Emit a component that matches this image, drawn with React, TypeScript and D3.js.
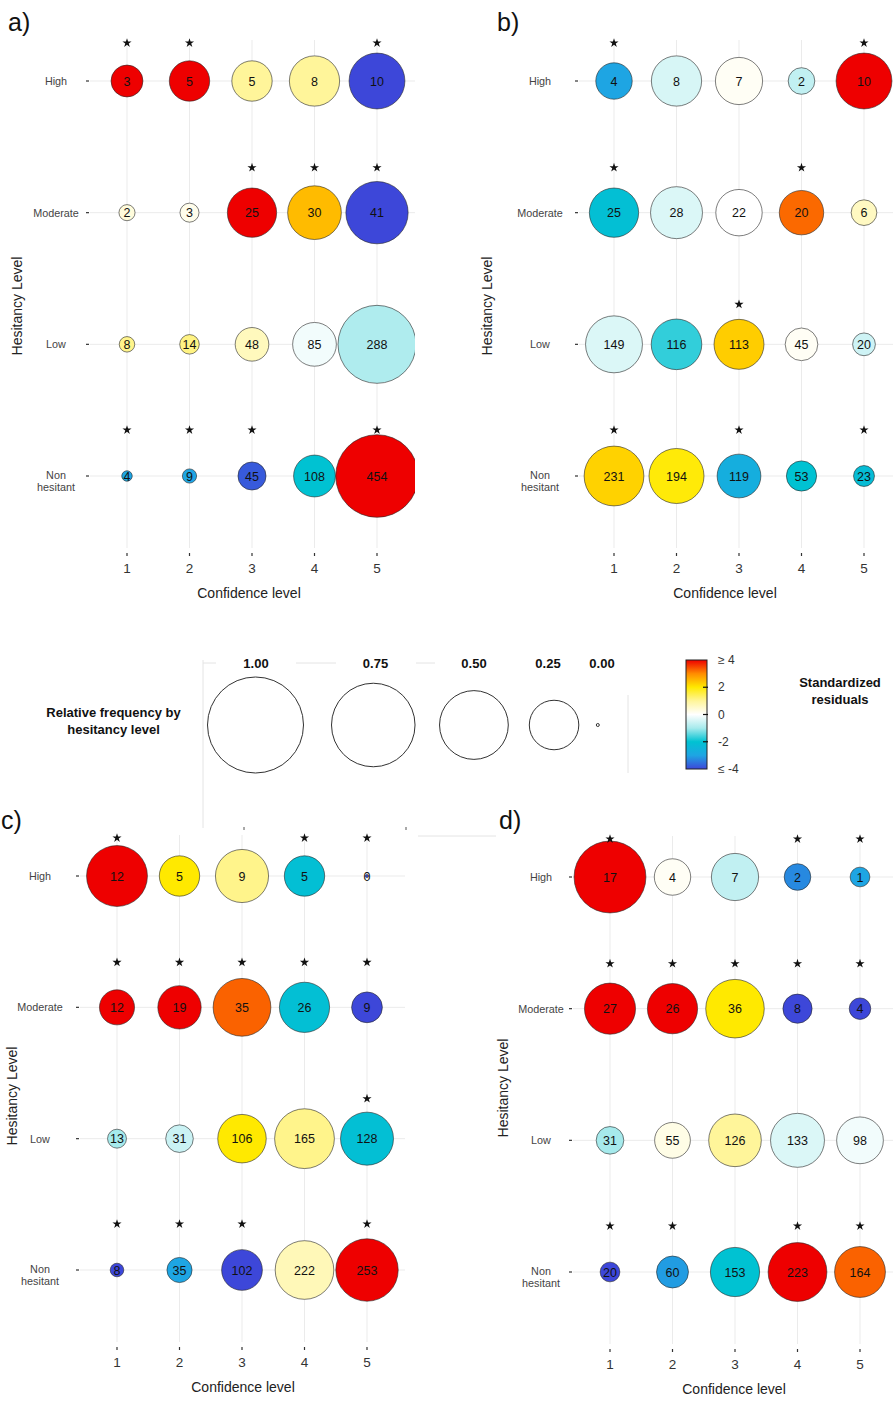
import React from "react";
import * as d3 from "d3";

// Categories
const CONFIDENCE_LEVELS = ["1", "2", "3", "4", "5"];
const HESITANCY_LEVELS = ["High", "Moderate", "Low", "Non hesitant"];

// Panel a) counts, standardized residuals and significance (rows follow HESITANCY_LEVELS)
const countsA = [
  [3, 5, 5, 8, 10],
  [2, 3, 25, 30, 41],
  [8, 14, 48, 85, 288],
  [4, 9, 45, 108, 454],
];
const residualsA = [
  [4, 4, 1, 1, -4],
  [0.35, 0.2, 4, 2.5, -4],
  [1.1, 1.15, 0.65, -0.15, -0.9],
  [-3, -3, -3.8, -2, 4],
];
const significantA = [
  [1, 1, 0, 0, 1],
  [0, 0, 1, 1, 1],
  [0, 0, 0, 0, 0],
  [1, 1, 1, 0, 1],
];

// Panel b)
const countsB = [
  [4, 8, 7, 2, 10],
  [25, 28, 22, 20, 6],
  [149, 116, 113, 45, 20],
  [231, 194, 119, 53, 23],
];
const residualsB = [
  [-3, -0.45, 0.1, -0.7, 4],
  [-2.1, -0.4, 0, 3.25, 0.6],
  [-0.4, -1.7, 2.3, 0.1, -0.55],
  [2.25, 1.95, -2.7, -2, -2.2],
];
const significantB = [
  [1, 0, 0, 0, 1],
  [1, 0, 0, 1, 0],
  [0, 0, 1, 0, 0],
  [1, 0, 1, 0, 1],
];

// Panel c)
const countsC = [
  [12, 5, 9, 5, 0],
  [12, 19, 35, 26, 9],
  [13, 31, 106, 165, 128],
  [8, 35, 102, 222, 253],
];
const residualsC = [
  [4, 2, 1.1, -2.1, -4],
  [4, 4, 3.3, -2.1, -4],
  [-1, -0.6, 2, 1.1, -2.1],
  [-4, -3, -4, 0.7, 4],
];
const significantC = [
  [1, 0, 0, 1, 1],
  [1, 1, 1, 1, 1],
  [0, 0, 0, 0, 1],
  [1, 1, 1, 0, 1],
];

// Panel d)
const countsD = [
  [17, 4, 7, 2, 1],
  [27, 26, 36, 8, 4],
  [31, 55, 126, 133, 98],
  [20, 60, 153, 223, 164],
];
const residualsD = [
  [4, 0.1, -0.7, -3.3, -3],
  [4, 4, 2, -4, -4],
  [-1, 0.25, 1, -0.4, -0.15],
  [-4, -3.1, -2, 4, 3.3],
];
const significantD = [
  [1, 0, 0, 1, 1],
  [1, 1, 1, 1, 1],
  [0, 0, 0, 0, 0],
  [1, 1, 0, 1, 1],
];

// Legends
const SIZE_LEGEND_VALUES = [1, 0.75, 0.5, 0.25, 0];
const SIZE_LEGEND_LABELS = ["1.00", "0.75", "0.50", "0.25", "0.00"];
const RESIDUAL_TICKS = [4, 2, 0, -2, -4];
const RESIDUAL_TICK_LABELS = ["≥ 4", "2", "0", "-2", "≤ -4"];
const RESIDUAL_STOPS = [-4, -3, -2, -1, 0, 1, 2, 3, 4];
const RESIDUAL_COLORS = [
  "#3d47d9", "#1ea5e3", "#00c2d2", "#a6eaec", "#ffffff",
  "#fff59a", "#ffe900", "#ff8c00", "#ee0000",
];

const FONT = "'Liberation Sans', Arial, Helvetica, sans-serif";

const color = d3
  .scaleLinear<string>()
  .domain(RESIDUAL_STOPS)
  .range(RESIDUAL_COLORS)
  .interpolate(d3.interpolateRgb)
  .clamp(true);

// bubble radius from the relative frequency within a hesitancy level
const radius = d3.scaleSqrt().domain([0, 1]).range([1.5, 48]);

// vertical offset of the significance star above each row
const STAR_OFFSET = [-38, -45, -40, -46];

type Layout = {
  id: string;
  letter: string;
  letterX: number;
  letterY: number;
  xRange: [number, number];
  yRange: [number, number];
  gridLeft: number;
  gridRight: number;
  labelX: number;
  titleX: number;
  yTitleX: number;
  yTitleY: number;
};

const PANELS: { layout: Layout; counts: number[][]; residuals: number[][]; significant: number[][] }[] = [
  {
    layout: { id: "a", letter: "a)", letterX: 8, letterY: 31, xRange: [127, 377], yRange: [81, 476],
      gridLeft: 90, gridRight: 415, labelX: 56, titleX: 249, yTitleX: 22, yTitleY: 306 },
    counts: countsA, residuals: residualsA, significant: significantA,
  },
  {
    layout: { id: "b", letter: "b)", letterX: 497, letterY: 31, xRange: [614, 864], yRange: [81, 476],
      gridLeft: 579, gridRight: 893, labelX: 540, titleX: 725, yTitleX: 492, yTitleY: 306 },
    counts: countsB, residuals: residualsB, significant: significantB,
  },
  {
    layout: { id: "c", letter: "c)", letterX: 1, letterY: 829, xRange: [117, 367], yRange: [876, 1270],
      gridLeft: 80, gridRight: 405, labelX: 40, titleX: 243, yTitleX: 17, yTitleY: 1096 },
    counts: countsC, residuals: residualsC, significant: significantC,
  },
  {
    layout: { id: "d", letter: "d)", letterX: 499, letterY: 829, xRange: [610, 860], yRange: [877, 1272],
      gridLeft: 573, gridRight: 893, labelX: 541, titleX: 734, yTitleX: 508, yTitleY: 1088 },
    counts: countsD, residuals: residualsD, significant: significantD,
  },
];

const starPath = d3.symbol().type(d3.symbolStar).size(26)() as string;

function Panel({ layout, counts, residuals, significant }: (typeof PANELS)[number]) {
  const x = d3.scalePoint<string>().domain(CONFIDENCE_LEVELS).range(layout.xRange);
  const y = d3.scalePoint<string>().domain(HESITANCY_LEVELS).range(layout.yRange);
  const gridTop = layout.yRange[0] - 41;
  const gridBottom = layout.yRange[1] + 72;
  const clipId = `clip-${layout.id}`;

  return (
    <g>
      <defs>
        <clipPath id={clipId}>
          <rect x={layout.gridLeft - 40} y={gridTop - 60} width={layout.gridRight - layout.gridLeft + 40} height={gridBottom - gridTop + 120} />
        </clipPath>
      </defs>
      <text x={layout.letterX} y={layout.letterY} fontSize={25} fontFamily={FONT} fill="#111">
        {layout.letter}
      </text>

      {/* grid */}
      {CONFIDENCE_LEVELS.map((c) => (
        <line key={`vg${c}`} x1={x(c)} x2={x(c)} y1={gridTop} y2={gridBottom} stroke="#ebebeb" strokeWidth={1} />
      ))}
      {HESITANCY_LEVELS.map((h) => (
        <line key={`hg${h}`} x1={layout.gridLeft} x2={layout.gridRight} y1={y(h)} y2={y(h)} stroke="#ebebeb" strokeWidth={1} />
      ))}

      {/* y axis */}
      {HESITANCY_LEVELS.map((h) => {
        const yy = y(h) as number;
        const lines = h === "Non hesitant" ? ["Non", "hesitant"] : [h];
        return (
          <g key={`yl${h}`}>
            <line x1={layout.gridLeft - 4} x2={layout.gridLeft - 1} y1={yy} y2={yy} stroke="#333" strokeWidth={1.2} />
            {lines.map((t, i) => (
              <text key={t} x={layout.labelX} y={yy + 4 - (lines.length - 1) + i * 11.5} textAnchor="middle"
                fontSize={10.8} fontFamily={FONT} fill="#444">
                {t}
              </text>
            ))}
          </g>
        );
      })}
      <text transform={`translate(${layout.yTitleX},${layout.yTitleY}) rotate(-90)`} textAnchor="middle"
        fontSize={14} fontFamily={FONT} fill="#222">
        Hesitancy Level
      </text>

      {/* x axis */}
      {CONFIDENCE_LEVELS.map((c) => (
        <g key={`xt${c}`}>
          <line x1={x(c)} x2={x(c)} y1={gridBottom + 5} y2={gridBottom + 8} stroke="#333" strokeWidth={1.2} />
          <text x={x(c)} y={gridBottom + 25} textAnchor="middle" fontSize={13.5} fontFamily={FONT} fill="#333">
            {c}
          </text>
        </g>
      ))}
      <text x={layout.titleX} y={gridBottom + 50} textAnchor="middle" fontSize={14} fontFamily={FONT} fill="#222">
        Confidence level
      </text>

      {/* bubbles */}
      <g clipPath={`url(#${clipId})`}>
        {HESITANCY_LEVELS.map((h, ri) => {
          const total = d3.sum(counts[ri]);
          return CONFIDENCE_LEVELS.map((c, ci) => {
            const n = counts[ri][ci];
            const r = radius(n / total);
            return (
              <g key={`b${h}${c}`}>
                <circle cx={x(c)} cy={y(h)} r={r} fill={color(residuals[ri][ci])} stroke="rgba(40,40,40,0.6)" strokeWidth={1} />
                <text x={x(c)} y={(y(h) as number) + 4.5} textAnchor="middle" fontSize={12.5} fontFamily={FONT} fill="#111">
                  {n}
                </text>
              </g>
            );
          });
        })}
      </g>

      {/* significance stars */}
      {HESITANCY_LEVELS.map((h, ri) =>
        CONFIDENCE_LEVELS.map((c, ci) =>
          significant[ri][ci] ? (
            <path key={`s${h}${c}`} d={starPath} transform={`translate(${x(c)},${(y(h) as number) + STAR_OFFSET[ri]})`} fill="#111" />
          ) : null
        )
      )}
    </g>
  );
}

function SizeLegend() {
  // keys are packed left to right, spacing shrinking with the key size
  const centers: number[] = [];
  SIZE_LEGEND_VALUES.forEach((v, i) => {
    const r = radius(v);
    if (i === 0) centers.push(255.5);
    else {
      const prev = SIZE_LEGEND_VALUES[i - 1];
      centers.push(centers[i - 1] + radius(prev) + r + 14 + 14 * prev);
    }
  });
  const labelX = [256, 375.5, 474, 548, 602];
  const cy = 725;
  return (
    <g>
      {/* faint frame */}
      <g stroke="#e4e4e4" strokeWidth={1}>
        <line x1={203} x2={203} y1={660} y2={828} />
        <line x1={203} x2={216} y1={663} y2={663} />
        <line x1={296} x2={336} y1={663} y2={663} />
        <line x1={416} x2={435} y1={663} y2={663} />
        <line x1={628} x2={628} y1={695} y2={773} />
        <line x1={418} x2={496} y1={836} y2={836} />
      </g>
      <line x1={244} x2={244} y1={827} y2={830} stroke="#555" />
      <line x1={406} x2={406} y1={827} y2={830} stroke="#555" />
      <text x={113.5} y={717} textAnchor="middle" fontSize={13} fontWeight="bold" fontFamily={FONT} fill="#111">
        Relative frequency by
      </text>
      <text x={113.5} y={734} textAnchor="middle" fontSize={13} fontWeight="bold" fontFamily={FONT} fill="#111">
        hesitancy level
      </text>
      {SIZE_LEGEND_VALUES.map((v, i) => (
        <g key={`sl${i}`}>
          <text x={labelX[i]} y={668} textAnchor="middle" fontSize={13} fontWeight="bold" fontFamily={FONT} fill="#111">
            {SIZE_LEGEND_LABELS[i]}
          </text>
          <circle cx={centers[i]} cy={cy} r={radius(v)} fill="#fff" stroke="#333" strokeWidth={1} />
        </g>
      ))}
    </g>
  );
}

function ColorLegend() {
  const yScale = d3.scaleLinear().domain([4, -4]).range([660, 769]);
  const x0 = 686;
  const w = 21;
  return (
    <g>
      <defs>
        <linearGradient id="resid-grad" x1="0" y1="1" x2="0" y2="0">
          {RESIDUAL_STOPS.map((s, i) => (
            <stop key={s} offset={`${((s + 4) / 8) * 100}%`} stopColor={RESIDUAL_COLORS[i]} />
          ))}
        </linearGradient>
      </defs>
      <rect x={x0} y={yScale(4)} width={w} height={yScale(-4) - yScale(4)} fill="url(#resid-grad)" stroke="#222" strokeWidth={1} />
      {RESIDUAL_TICKS.map((t, i) => (
        <g key={`ct${t}`}>
          {Math.abs(t) < 4 ? (
            <line x1={x0 + w - 4} x2={x0 + w + 1} y1={yScale(t)} y2={yScale(t)} stroke="#111" strokeWidth={1.2} />
          ) : null}
          <text x={x0 + w + 11} y={yScale(t) + 4} fontSize={12} fontFamily={FONT} fill="#333">
            {RESIDUAL_TICK_LABELS[i]}
          </text>
        </g>
      ))}
      <text x={840} y={687} textAnchor="middle" fontSize={13} fontWeight="bold" fontFamily={FONT} fill="#111">
        Standardized
      </text>
      <text x={840} y={704} textAnchor="middle" fontSize={13} fontWeight="bold" fontFamily={FONT} fill="#111">
        residuals
      </text>
    </g>
  );
}

export default function App() {
  return (
    <svg width={893} height={1401} viewBox="0 0 893 1401"
      style={{ position: "absolute", left: 0, top: 0, background: "#fff" }}>
      <rect x={0} y={0} width={893} height={1401} fill="#fff" />
      {PANELS.map((p) => (
        <Panel key={p.layout.id} {...p} />
      ))}
      <SizeLegend />
      <ColorLegend />
    </svg>
  );
}
